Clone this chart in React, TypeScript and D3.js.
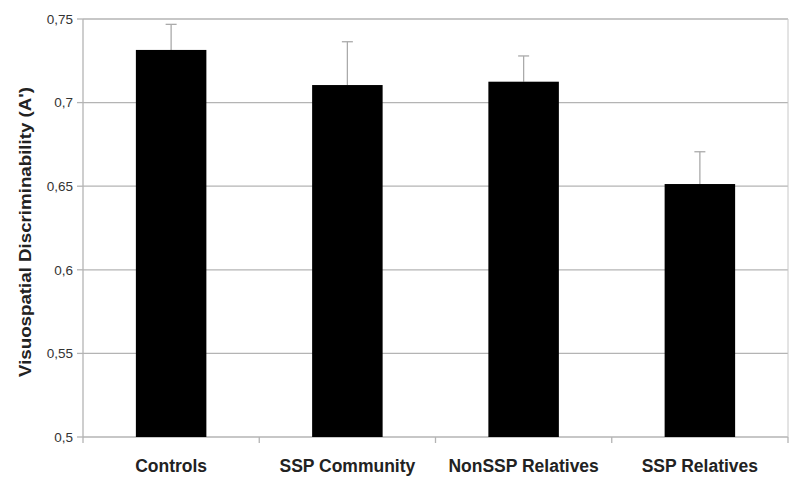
import React from 'react';
import * as d3 from 'd3';

const categories = ['Controls', 'SSP Community', 'NonSSP Relatives', 'SSP Relatives'];
const means = [0.7315, 0.7105, 0.7125, 0.6513];
const errTops = [0.7468, 0.7364, 0.7279, 0.6706];
const yTicks = [0.5, 0.55, 0.6, 0.65, 0.7, 0.75];
const yLabel = "Visuospatial Discriminability (A')";

const W = 800;
const H = 485;
const margin = { top: 19, right: 12, bottom: 48, left: 83 };

const App = () => {
  const x = d3
    .scaleBand()
    .domain(categories)
    .range([margin.left, W - margin.right])
    .paddingInner(0.6)
    .paddingOuter(0.3);
  const y = d3.scaleLinear().domain([0.5, 0.75]).range([H - margin.bottom, margin.top]);
  const fmt = (v) => d3.format('.2~f')(v).replace('.', ',');
  const y0 = y(0.5);
  const bounds = d3.range(categories.length + 1).map((i) => margin.left + i * (W - margin.left - margin.right) / categories.length);

  return (
    <svg width={W} height={H} style={{ position: 'absolute', left: 0, top: 0, background: '#fff' }} fontFamily="Arial, 'Liberation Sans', sans-serif">
      {yTicks.map((t) => (
        <g key={t}>
          <line x1={margin.left} x2={W - margin.right} y1={y(t)} y2={y(t)} stroke="#b4b4b4" strokeWidth={1.3} />
          <line x1={margin.left - 6} x2={margin.left} y1={y(t)} y2={y(t)} stroke="#b4b4b4" strokeWidth={1.3} />
          <text x={margin.left - 10} y={y(t)} dy="0.35em" textAnchor="end" fontSize={13.5} fill="#333">{fmt(t)}</text>
        </g>
      ))}
      <line x1={margin.left} x2={margin.left} y1={margin.top} y2={y0} stroke="#b4b4b4" strokeWidth={1.3} />
      <line x1={W - margin.right} x2={W - margin.right} y1={margin.top} y2={y0} stroke="#c8c8c8" strokeWidth={1} />
      {bounds.map((b, i) => (
        <line key={i} x1={b} x2={b} y1={y0} y2={y0 + 6} stroke="#b4b4b4" strokeWidth={1.3} />
      ))}
      {categories.map((c, i) => {
        const cx = x(c) + x.bandwidth() / 2;
        return (
          <g key={c}>
            <line x1={cx} x2={cx} y1={y(errTops[i])} y2={y(means[i])} stroke="#aaa" strokeWidth={1.3} />
            <line x1={cx - 5.5} x2={cx + 5.5} y1={y(errTops[i])} y2={y(errTops[i])} stroke="#aaa" strokeWidth={1.3} />
            <rect x={x(c)} y={y(means[i])} width={x.bandwidth()} height={y0 - y(means[i])} fill="#000" />
            <text x={cx} y={y0 + 35} textAnchor="middle" fontSize={17.5} fontWeight="bold" fill="#222">{c}</text>
          </g>
        );
      })}
      <text transform={`translate(31,232) rotate(-90)`} textAnchor="middle" fontSize={17} fontWeight="bold" fill="#222" textLength={290} lengthAdjust="spacingAndGlyphs">{yLabel}</text>
    </svg>
  );
};

export default App;
